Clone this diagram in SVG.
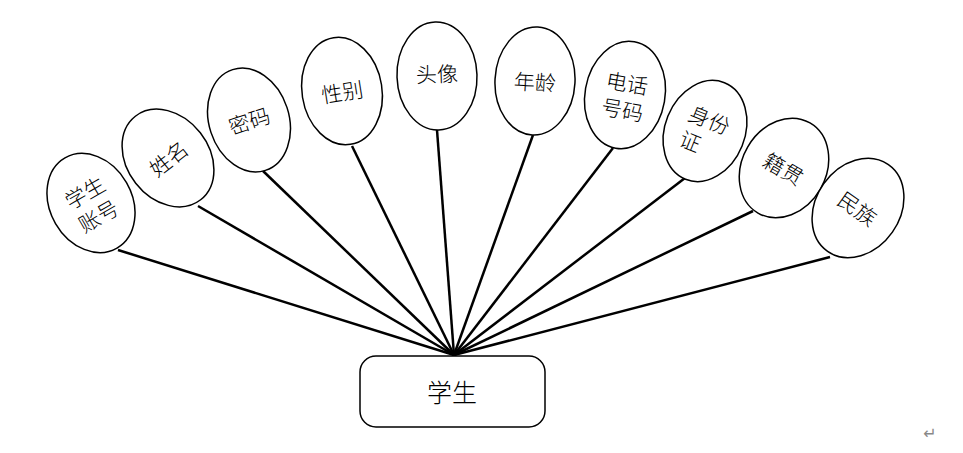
<svg xmlns="http://www.w3.org/2000/svg" width="963" height="453" viewBox="0 0 963 453">
<style>
.e{fill:#fff;stroke:#000;stroke-width:1.5}
.t{font-family:"Noto Sans CJK SC","Liberation Sans",sans-serif;font-weight:300;font-size:21px;fill:#000;text-anchor:middle;dominant-baseline:central}
.c line{stroke:#000;stroke-width:2.5}
</style>
<rect width="963" height="453" fill="#fff"/>
<g id="connectors" class="c">
<line x1="454" y1="355" x2="118" y2="250"/>
<line x1="454" y1="355" x2="198" y2="206"/>
<line x1="454" y1="355" x2="262" y2="170"/>
<line x1="454" y1="355" x2="352" y2="146"/>
<line x1="454" y1="355" x2="437" y2="130"/>
<line x1="454" y1="355" x2="533" y2="135"/>
<line x1="454" y1="355" x2="613" y2="148"/>
<line x1="454" y1="355" x2="685" y2="178"/>
<line x1="454" y1="355" x2="753" y2="211"/>
<line x1="454" y1="355" x2="830" y2="257"/>
</g>
<g id="n1" transform="translate(91,203) rotate(-30)"><ellipse class="e" rx="41" ry="52"/><text class="t" y="-13">学生</text><text class="t" y="14">账号</text></g>
<g id="n2" transform="translate(168,158) rotate(-38)"><ellipse class="e" rx="41" ry="53"/><text class="t">姓名</text></g>
<g id="n3" transform="translate(249,120) rotate(-18)"><ellipse class="e" rx="40" ry="53"/><text class="t">密码</text></g>
<g id="n4" transform="translate(342,91) rotate(-9)"><ellipse class="e" rx="40" ry="54"/><text class="t">性别</text></g>
<g id="n5" transform="translate(437,76) rotate(-2)"><ellipse class="e" rx="40" ry="54"/><text class="t" y="-3">头像</text></g>
<g id="n6" transform="translate(535,81) rotate(3)"><ellipse class="e" rx="40" ry="54"/><text class="t">年龄</text></g>
<g id="n7" transform="translate(625,95) rotate(10)"><ellipse class="e" rx="40" ry="54"/><text class="t" y="-13">电话</text><text class="t" y="14">号码</text></g>
<g id="n8" transform="translate(705,131) rotate(22)"><ellipse class="e" rx="40" ry="52"/><text class="t" y="-13">身份</text><text class="t" x="-10" y="14">证</text></g>
<g id="n9" transform="translate(784,168) rotate(30)"><ellipse class="e" rx="42" ry="52"/><text class="t">籍贯</text></g>
<g id="n10" transform="translate(858,208) rotate(35)"><ellipse class="e" rx="42" ry="53"/><text class="t">民族</text></g>
<g id="student"><rect x="360" y="356" width="185" height="71" rx="16" class="e"/><text class="t" x="452" y="391" style="font-size:25px">学生</text></g>
<text x="930" y="433" style="font-family:'DejaVu Sans',sans-serif;font-size:16px;fill:#888;text-anchor:middle;dominant-baseline:central">↵</text>
</svg>
